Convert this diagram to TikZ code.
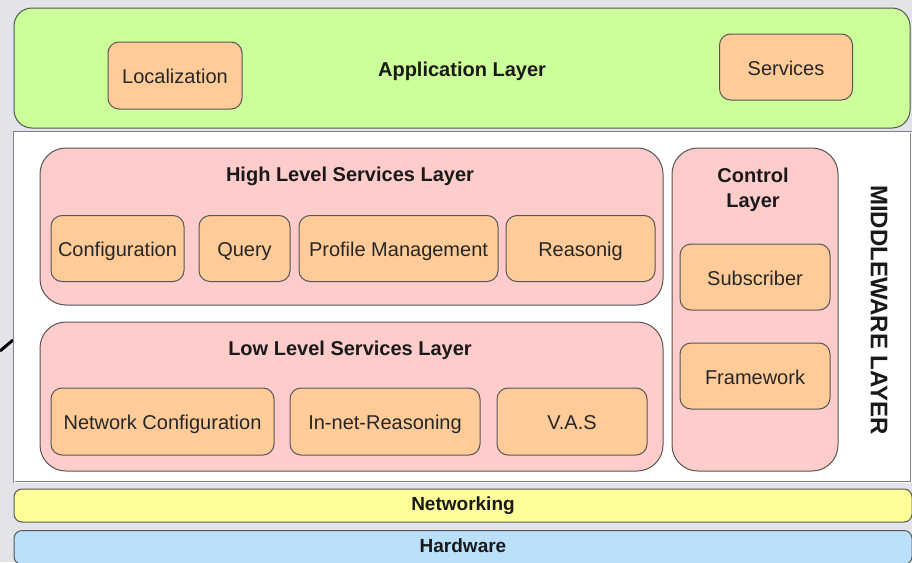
\documentclass[tikz,border=0pt]{standalone}
\usepackage{fontspec}
\setmainfont{Liberation Sans}
\usetikzlibrary{positioning}

\definecolor{slidebg}{HTML}{E3E4EA}
\definecolor{appgreen}{HTML}{CCFF99}
\definecolor{layerpink}{HTML}{FFCCCC}
\definecolor{boxorange}{HTML}{FFCC99}
\definecolor{netyellow}{HTML}{FFFF99}
\definecolor{hwblue}{HTML}{BBE0FB}
\definecolor{edge}{HTML}{555555}

\begin{document}
\begin{tikzpicture}[
			x=1pt, y=-1pt,
			node distance=0pt,
			font=\fontsize{20}{25}\selectfont,
			layer/.style = {rectangle, draw=edge, line width=1pt,% big coloured bands
				rounded corners=#1, inner sep=0pt, text=black!90,
				text height=16pt, text depth=0pt},
			layer/.default=18pt,
			band/.style = {layer=8pt, minimum width=898pt, text height=10pt,% thin bottom bands
				font=\fontsize{19}{25}\selectfont\bfseries},
			blk/.style = {rectangle, draw=edge, line width=1pt, fill=boxorange,% small boxes
				rounded corners=11pt, minimum height=66pt, inner sep=0pt, text=black!85,
				text height=16pt, text depth=0pt},
			ttl/.style = {font=\fontsize{20}{25}\selectfont\bfseries, text=black!90, align=center},
			]
			% slide background
			\useasboundingbox[fill=slidebg] (0,0) rectangle (912,562);
			\draw[line width=3pt] (0,351) -- (13,340);
			% application layer
			\node[layer, fill=appgreen, minimum width=896pt, minimum height=120pt,
				font=\fontsize{20}{25}\selectfont\bfseries] (app) at (462,68) {Application Layer};
			\node[blk, minimum width=134pt, minimum height=67pt] (loc) at (175,75.5) {Localization};
			\node[blk, minimum width=133pt] (serv) at (786,67) {Services};
			% middleware layer
			\node[rectangle, draw=gray, double=white, double distance=1pt, fill=white,
				minimum width=897pt, minimum height=350pt, inner sep=0pt] (mw) at (462.5,307) {};
			\node[ttl, rotate=-90, font=\fontsize{24}{25}\selectfont\bfseries] (mwl) at (879,310) {MIDDLEWARE LAYER};
			\node[layer=26pt, fill=layerpink, minimum width=623pt, minimum height=157pt] (hls) at (351.5,226.5) {};
			\node[ttl, text height=16pt, text depth=0pt] (hlst) at (350,173) {High Level Services Layer};
			\foreach \n/\x/\w/\t in {conf/117.5/133/Configuration, query/244.5/91/Query,
				prof/398.5/199/Profile Management, reas/580.5/149/Reasonig}% <-- high level boxes
			\node[blk, minimum width=\w pt] (\n) at (\x,248.5) {\t};
			\node[layer=26pt, fill=layerpink, minimum width=623pt, minimum height=149pt] (lls) at (351.5,396.5) {};
			\node[ttl, text height=16pt, text depth=0pt] (llst) at (350,347) {Low Level Services Layer};
			\foreach \n/\x/\w/\t in {netconf/162.5/223/Network Configuration,
				innet/385/190/In-net-Reasoning, vas/572/150/V.A.S}% <-- low level boxes
			\node[blk, minimum width=\w pt, minimum height=67pt] (\n) at (\x,421.5) {\t};
			\node[layer=26pt, fill=layerpink, minimum width=166pt, minimum height=323pt] (ctl) at (755,309.5) {};
			\node[ttl] (ctlt) at (753,190) {Control\\Layer};
			\node[blk, minimum width=150pt] (sub) at (755,277) {Subscriber};
			\node[blk, minimum width=150pt] (fw) at (755,376) {Framework};
			% bottom bands
			\node[band, fill=netyellow, minimum height=33pt] (net) at (463,505.5) {Networking};
			\node[band, fill=hwblue, minimum height=34pt] (hw) at (463,547.5) {Hardware};
		\end{tikzpicture}
\end{document}
